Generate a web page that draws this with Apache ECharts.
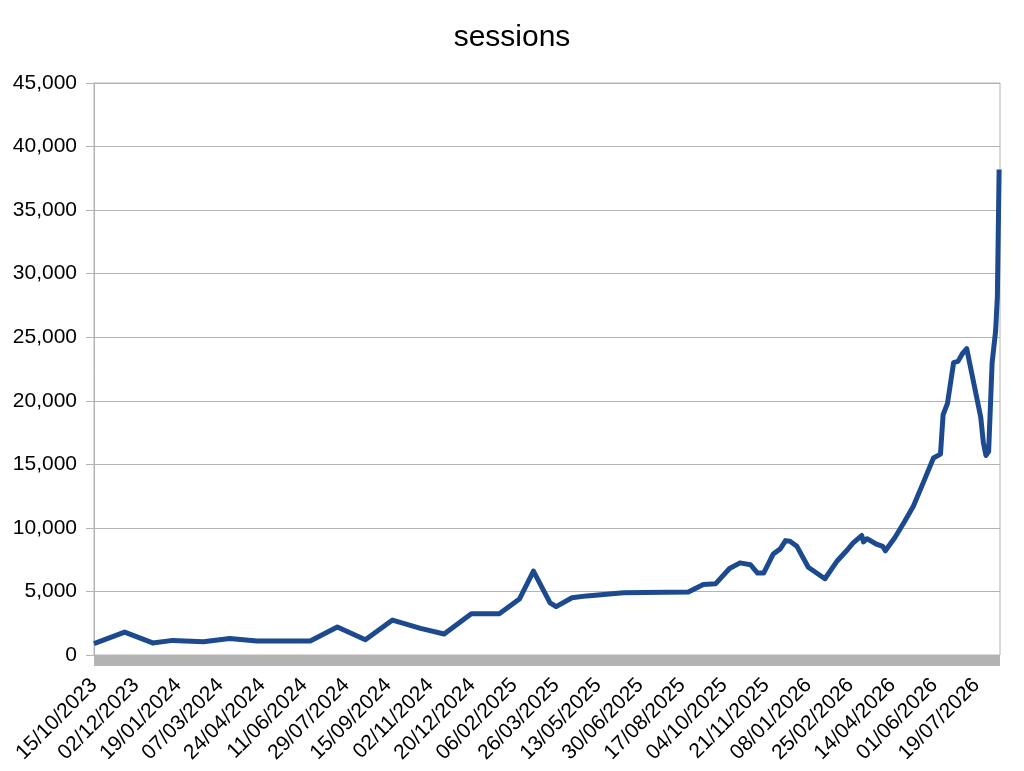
<!DOCTYPE html>
<html>
<head>
<meta charset="utf-8">
<script src="https://cdn.jsdelivr.net/npm/echarts@6/dist/echarts.min.js"></script>
<style>
  html, body { margin: 0; padding: 0; background: #fff; }
  #chart { width: 1024px; height: 771px; }
</style>
</head>
<body>
<div id="chart"></div>
<script>
// dates and session counts
const dates = [
  '2023-10-15', '2023-11-19', '2023-12-21', '2024-01-13', '2024-02-17', '2024-03-18',
  '2024-04-18', '2024-06-18', '2024-07-19', '2024-08-20', '2024-09-20', '2024-10-22',
  '2024-11-18', '2024-12-19', '2025-01-20', '2025-02-12', '2025-02-28', '2025-03-19',
  '2025-03-26', '2025-04-13', '2025-04-30', '2025-06-11', '2025-08-24', '2025-09-10',
  '2025-09-24', '2025-10-10', '2025-10-22', '2025-11-03', '2025-11-11', '2025-11-18',
  '2025-11-29', '2025-12-07', '2025-12-13', '2025-12-18', '2025-12-26', '2026-01-08',
  '2026-01-27', '2026-02-10', '2026-02-22', '2026-02-28', '2026-03-10', '2026-03-12',
  '2026-03-16', '2026-03-26', '2026-04-03', '2026-04-06', '2026-04-17', '2026-04-28',
  '2026-05-08', '2026-05-19', '2026-05-31', '2026-06-08', '2026-06-11', '2026-06-16',
  '2026-06-23', '2026-06-28', '2026-07-03', '2026-07-08', '2026-07-24', '2026-07-27',
  '2026-07-30', '2026-08-02', '2026-08-06', '2026-08-10', '2026-08-12', '2026-08-14'
];
const sessions = [
  900, 1800, 950, 1150, 1050, 1300,
  1100, 1100, 2200, 1200, 2750, 2100,
  1650, 3250, 3250, 4400, 6600, 4100,
  3800, 4500, 4650, 4900, 4950, 5550,
  5600, 6800, 7250, 7100, 6450, 6450,
  7950, 8350, 9000, 8950, 8550, 6900,
  6000, 7400, 8300, 8800, 9400, 8900,
  9150, 8750, 8550, 8200, 9250, 10500,
  11700, 13500, 15500, 15800, 18900, 19800,
  23000, 23100, 23700, 24100, 18700, 16700,
  15700, 16000, 23000, 25500, 28200, 38200
];
const startDate = '2023-10-15';
const endDate = '2026-08-15';
const labelStep = 48; // days between date labels
const yTicks = [0, 5000, 10000, 15000, 20000, 25000, 30000, 35000, 40000, 45000];

const DAY = 86400000;
const t0 = Date.parse(startDate);
const dayOf = (d) => Math.round((Date.parse(d) - t0) / DAY);
const fmtDay = (n) => {
  const d = new Date(t0 + n * DAY);
  const p = (x) => String(x).padStart(2, '0');
  return p(d.getUTCDate()) + '/' + p(d.getUTCMonth() + 1) + '/' + d.getUTCFullYear();
};

const font = 'Liberation Sans, Arial, sans-serif';
const chart = echarts.init(document.getElementById('chart'));

chart.setOption({
  backgroundColor: '#ffffff',
  animation: false,
  title: {
    text: 'sessions',
    left: 'center',
    top: 18,
    textStyle: { fontFamily: font, fontSize: 30, fontWeight: 'normal', color: '#000' }
  },
  grid: {
    left: 94, right: 24, top: 83, bottom: 116,
    show: true, borderColor: '#b3b3b3', borderWidth: 1
  },
  xAxis: {
    type: 'value',
    min: 0,
    max: dayOf(endDate),
    interval: labelStep,
    offset: 5,
    axisLine: { show: true, onZero: false, lineStyle: { color: '#b3b3b3', width: 11, cap: 'butt' } },
    axisTick: { show: false },
    splitLine: { show: false },
    axisLabel: {
      rotate: 45,
      margin: 22,
      showMaxLabel: false,
      fontFamily: font,
      fontSize: 21,
      color: '#000',
      formatter: (v) => (v % labelStep === 0 ? fmtDay(v) : '')
    }
  },
  yAxis: {
    type: 'value',
    min: yTicks[0],
    max: yTicks[yTicks.length - 1],
    interval: yTicks[1] - yTicks[0],
    axisLine: { show: true, lineStyle: { color: '#b3b3b3', width: 1 } },
    axisTick: { show: true, length: 8, lineStyle: { color: '#b3b3b3' } },
    splitLine: { show: true, lineStyle: { color: '#b3b3b3', width: 1 } },
    axisLabel: {
      margin: 17,
      fontFamily: font,
      fontSize: 21,
      color: '#000',
      formatter: (v) => v.toLocaleString('en-US')
    }
  },
  series: [{
    type: 'line',
    data: dates.map((d, i) => [dayOf(d), sessions[i]]),
    showSymbol: false,
    lineStyle: { color: '#1d4a8e', width: 5, join: 'round' },
    itemStyle: { color: '#1d4a8e' }
  }]
});
</script>
</body>
</html>
